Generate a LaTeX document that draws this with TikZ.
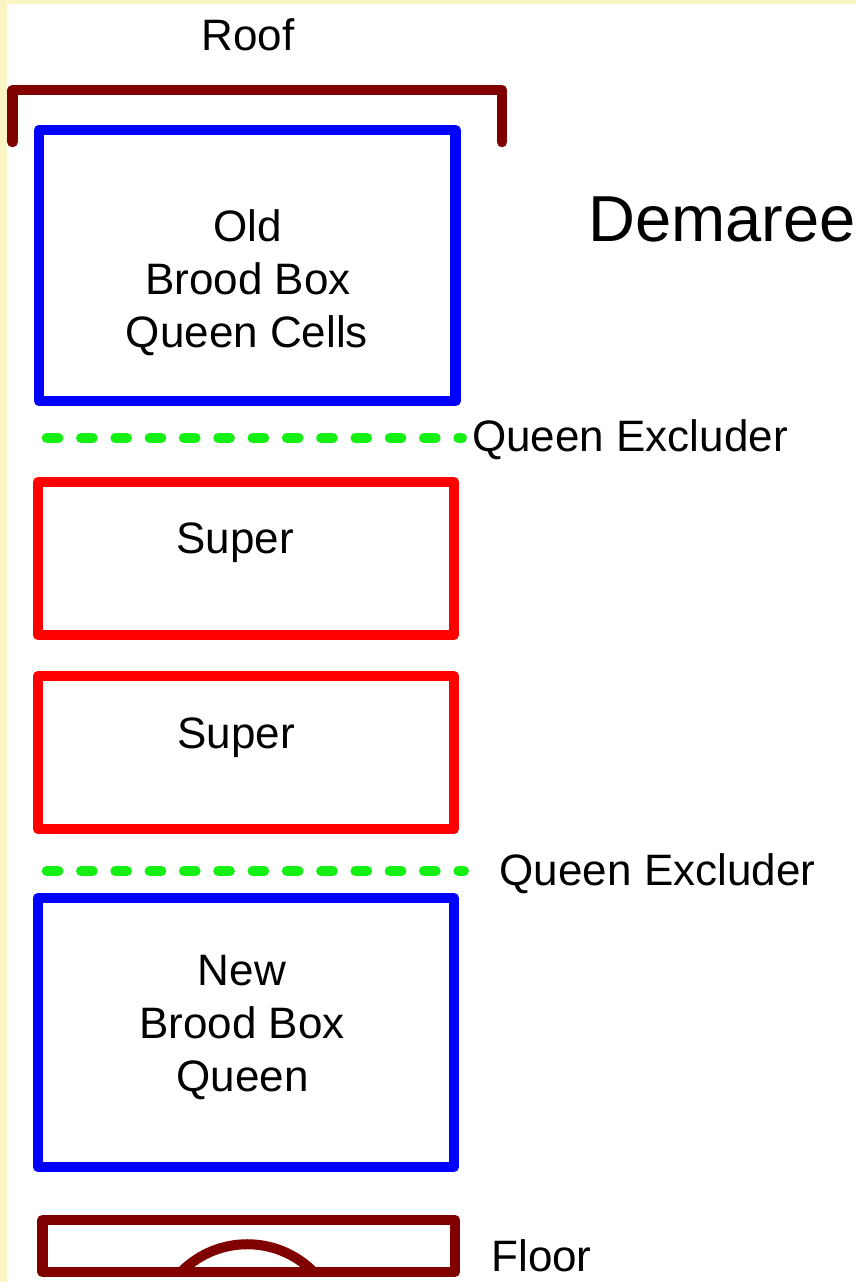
\documentclass[tikz,border=0pt]{standalone}
\usepackage{fontspec}
\setmainfont{Liberation Sans}
\definecolor{bgyellow}{RGB}{250,246,196}
\definecolor{roofred}{RGB}{128,0,0}
\definecolor{boxblue}{RGB}{0,0,255}
\definecolor{boxred}{RGB}{255,0,0}
\definecolor{exgreen}{RGB}{20,240,20}
\begin{document}
\begin{tikzpicture}[x=1pt,y=-1pt,
  lbl/.style={inner sep=0pt, anchor=base, font=\fontsize{44}{53}\selectfont},
  title/.style={inner sep=0pt, anchor=base, font=\fontsize{65}{78}\selectfont},
  hivebox/.style={draw, line width=10.5pt, line join=round, inner sep=0pt, fill=none},
  brood/.style={hivebox, boxblue},
  superbox/.style={hivebox, boxred},
  roofline/.style={draw=roofred, line width=10.5pt, line cap=round, line join=round},
  excluder/.style={draw=exgreen, line width=10pt, line cap=round, dash pattern=on 11.7pt off 22.6pt}]
\fill[bgyellow] (0,0) rectangle (856,1282);
\fill[white] (7,4) rectangle (856,1282);
\useasboundingbox (0,0) rectangle (856,1282);

% roof
\coordinate (roofL) at (12.5,142);
\coordinate (roofLT) at (12.5,90);
\coordinate (roofRT) at (502,90);
\coordinate (roofR) at (502,142);
\draw[roofline] (roofL) -- (roofLT) -- (roofRT) -- (roofR);
\node[lbl] (rooftext) at (248,50) {Roof};

% old brood box
\node[brood, minimum width=416.5pt, minimum height=271pt] (oldbox) at (247.25,265.5) {};
\node[lbl] (old1) at (247.5,241) {Old};
\node[lbl] (old2) at (248,294) {Brood Box};
\node[lbl] (old3) at (247,347) {Queen Cells};

\node[title] (demaree) at (722,241) {Demaree};

% excluder 1
\coordinate (ex1a) at (46.7,438);
\coordinate (ex1b) at (462,438);
\draw[excluder] (ex1a) -- (ex1b);
\node[lbl] (ex1text) at (630,451) {Queen Excluder};

% supers
\node[superbox, minimum width=416pt, minimum height=153pt] (super1) at (246,558.5) {};
\node[lbl] (super1text) at (235,553) {Super};
\node[superbox, minimum width=416pt, minimum height=153pt] (super2) at (246,752.5) {};
\node[lbl] (super2text) at (236,748) {Super};

% excluder 2
\coordinate (ex2a) at (46.7,871);
\coordinate (ex2b) at (464,871);
\draw[excluder] (ex2a) -- (ex2b);
\node[lbl] (ex2text) at (657.5,885) {Queen Excluder};

% new brood box
\node[brood, minimum width=416pt, minimum height=269pt] (newbox) at (246,1032.5) {};
\node[lbl] (new1) at (242,985) {New};
\node[lbl] (new2) at (242,1038) {Brood Box};
\node[lbl] (new3) at (242.5,1091) {Queen};

% floor
\node[hivebox, draw=roofred, line width=10.5pt, minimum width=412.5pt, minimum height=52pt] (floor) at (248.75,1246) {};
\coordinate (archL) at (182,1271);
\draw[roofred, line width=10pt] (archL) arc[start angle=225.4, end angle=314.6, radius=93];
\node[lbl] (floortext) at (541.5,1271) {Floor};
\end{tikzpicture}
\end{document}
